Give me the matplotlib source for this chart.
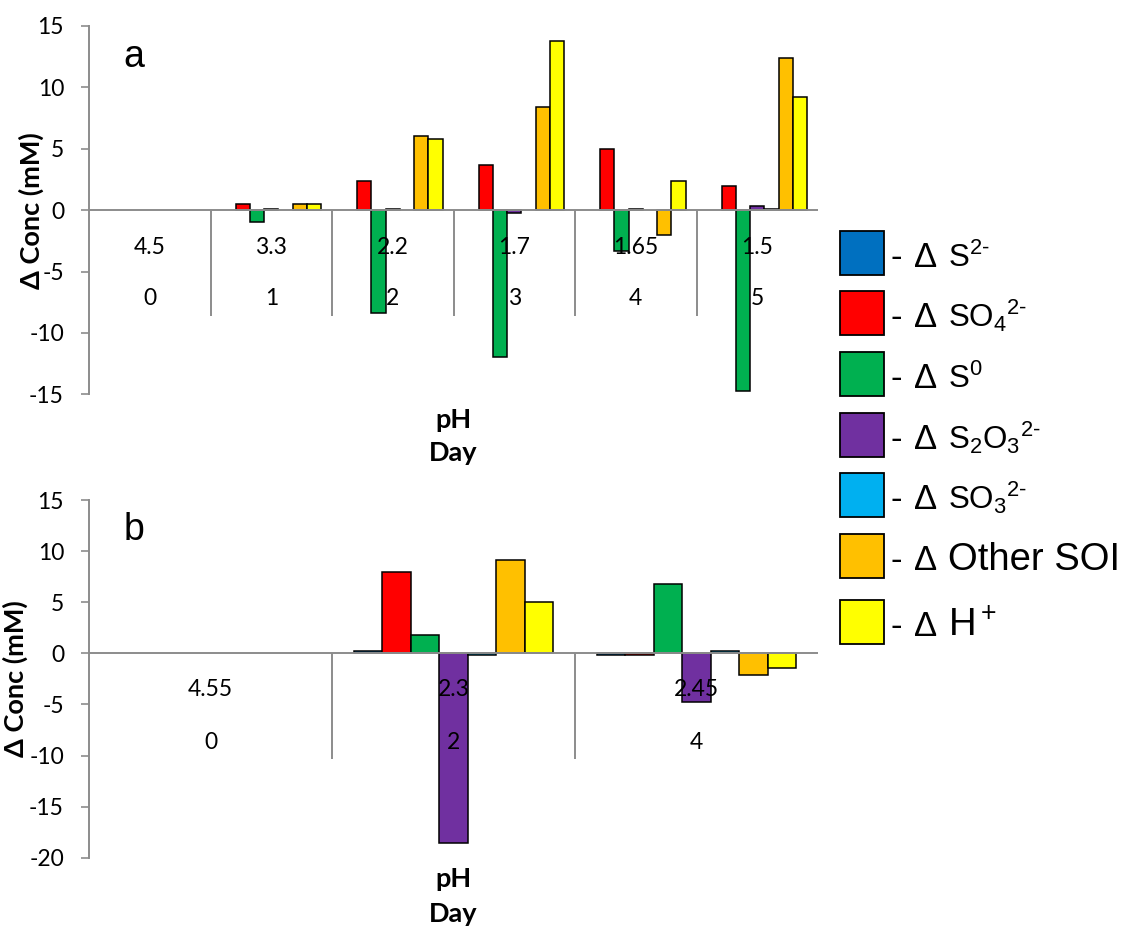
import matplotlib
matplotlib.use("Agg")
import matplotlib.pyplot as plt
from matplotlib.patches import Rectangle
from matplotlib.transforms import offset_copy
import numpy as np

plt.rcParams['mathtext.fontset'] = 'custom'
plt.rcParams['mathtext.rm'] = 'Liberation Sans'
plt.rcParams['mathtext.it'] = 'Liberation Sans:italic'
plt.rcParams['mathtext.bf'] = 'Liberation Sans:bold'
plt.rcParams['mathtext.default'] = 'regular'

# Sulfur species (legend formula part) and their colours
species = [r'S$^{2\text{-}}$', r'SO$_4$$^{2\text{-}}$', r'S$^0$',
           r'S$_2$O$_3$$^{2\text{-}}$', r'SO$_3$$^{2\text{-}}$', 'Other SOI',
           r'H$^+$']
species_size = [22.5, 22.5, 22.5, 22.5, 22.5, 27.5, 27.5]
colors = ['#0070C0', '#FF0000', '#00B050', '#7030A0', '#00B0F0', '#FFC000', '#FFFF00']

# Panel a: change in concentration (mM) per day
days_a = ['0', '1', '2', '3', '4', '5']
ph_a = ['4.5', '3.3', '2.2', '1.7', '1.65', '1.5']
a_s2 = [0, 0, 0, 0, 0, 0]
a_so4 = [0, 0.5, 2.4, 3.7, 5.0, 2.0]
a_s0 = [0, -1.0, -8.4, -12.0, -3.3, -14.7]
a_s2o3 = [0, 0.1, 0.1, -0.2, 0.1, 0.3]
a_so3 = [0, 0, 0, 0, 0, 0.1]
a_other = [0, 0.5, 6.0, 8.4, -2.0, 12.4]
a_h = [0, 0.5, 5.8, 13.8, 2.4, 9.2]

# Panel b: change in concentration (mM) per day
days_b = ['0', '2', '4']
ph_b = ['4.55', '2.3', '2.45']
b_s2 = [0, 0.2, -0.2]
b_so4 = [0, 8.0, -0.2]
b_s0 = [0, 1.8, 6.8]
b_s2o3 = [0, -18.6, -4.8]
b_so3 = [0, -0.2, 0.2]
b_other = [0, 9.1, -2.1]
b_h = [0, 5.0, -1.4]

series_a = [a_s2, a_so4, a_s0, a_s2o3, a_so3, a_other, a_h]
series_b = [b_s2, b_so4, b_s0, b_s2o3, b_so3, b_other, b_h]

GREY = '#8c8c8c'
BODY_FONT = 'Lato'

fig = plt.figure(figsize=(11.26, 9.34), dpi=100)
W, H = 1126, 934


def fx(px):
    return px / W


def fy(py):
    return 1 - py / H


def px_axes(left, top, right, bottom):
    return fig.add_axes([fx(left), fy(bottom), (right - left) / W, (bottom - top) / H])


def draw_panel(ax, series, days, phs, ylim, yticks, sep_depth, letter,
               ph_off, day_off, ylabel_x):
    n = len(days)
    x = np.arange(n)
    w = 0.117
    for i, (vals, c) in enumerate(zip(series, colors)):
        vals = np.asarray(vals, float)
        lw = np.where(vals == 0, 0.0, 1.1)
        ax.bar(x + (i - 3) * w, vals, w, color=c, edgecolor='black',
               linewidth=lw, zorder=3)
    ax.axhline(0, color=GREY, lw=1.4, zorder=4)
    ax.vlines(x[:-1] + 0.5, -sep_depth, 0, color=GREY, lw=1.4, zorder=2)
    ax.set_xlim(-0.5, n - 0.5)
    ax.set_ylim(*ylim)
    ax.set_yticks(yticks)
    ax.set_yticklabels([str(t) for t in yticks], fontfamily=BODY_FONT, fontsize=16.5)
    ax.set_xticks([])
    for s in ['top', 'right', 'bottom']:
        ax.spines[s].set_visible(False)
    ax.spines['left'].set_color(GREY)
    ax.spines['left'].set_linewidth(1.4)
    ax.tick_params(axis='y', direction='out', length=6, width=1.2, color=GREY, pad=12)
    t_ph = offset_copy(ax.transData, fig=fig, y=-ph_off * 0.72, units='points')
    t_day = offset_copy(ax.transData, fig=fig, y=-day_off * 0.72, units='points')
    for xi, p, d in zip(x, phs, days):
        ax.text(xi, 0, p, transform=t_ph, ha='center', va='center',
                fontfamily=BODY_FONT, fontsize=16.5)
        ax.text(xi, 0, d, transform=t_day, ha='center', va='center',
                fontfamily=BODY_FONT, fontsize=16.5)
    ax.set_ylabel('Δ Conc (mM)', fontfamily=BODY_FONT, fontweight='bold', fontsize=19.5)
    ax.yaxis.set_label_coords(ylabel_x, 0.5)
    ax.text(0.047, 0.915, letter, transform=ax.transAxes, ha='left', va='center',
            fontfamily='Liberation Sans', fontsize=27)


ax_a = px_axes(89, 26, 818, 394.3)
draw_panel(ax_a, series_a, days_a, ph_a, (-15, 15), [15, 10, 5, 0, -5, -10, -15],
           8.6, 'a', 37, 88, -0.062)

ax_b = px_axes(89, 500, 818, 857.7)
draw_panel(ax_b, series_b, days_b, ph_b, (-20, 15), [15, 10, 5, 0, -5, -10, -15, -20],
           10.3, 'b', 36, 89, -0.083)

for ypx, txt in [(420, 'pH'), (453, 'Day'), (879, 'pH'), (914, 'Day')]:
    fig.text(fx(453.5), fy(ypx), txt, ha='center', va='center',
             fontfamily=BODY_FONT, fontweight='bold', fontsize=19.5)

# Legend: coloured swatches with "- Δ" prefix and species formula
row_centers = [253, 313, 374, 435, 495, 556, 622]
for yc, c, label, size in zip(row_centers, colors, species, species_size):
    fig.add_artist(Rectangle((fx(840), fy(yc + 22)), 44 / W, 44 / H,
                             transform=fig.transFigure, facecolor=c,
                             edgecolor='black', linewidth=1.3))
    base = fy(yc + 14)
    fig.text(fx(890), base, '-', ha='left', va='baseline',
             fontfamily='Liberation Sans', fontsize=25)
    fig.text(fx(914), base, 'Δ', ha='left', va='baseline',
             fontfamily='Liberation Sans', fontsize=25)
    fig.text(fx(948), base, label, ha='left', va='baseline',
             fontfamily='Liberation Sans', fontsize=size)

fig.savefig('out.png', dpi=100)
